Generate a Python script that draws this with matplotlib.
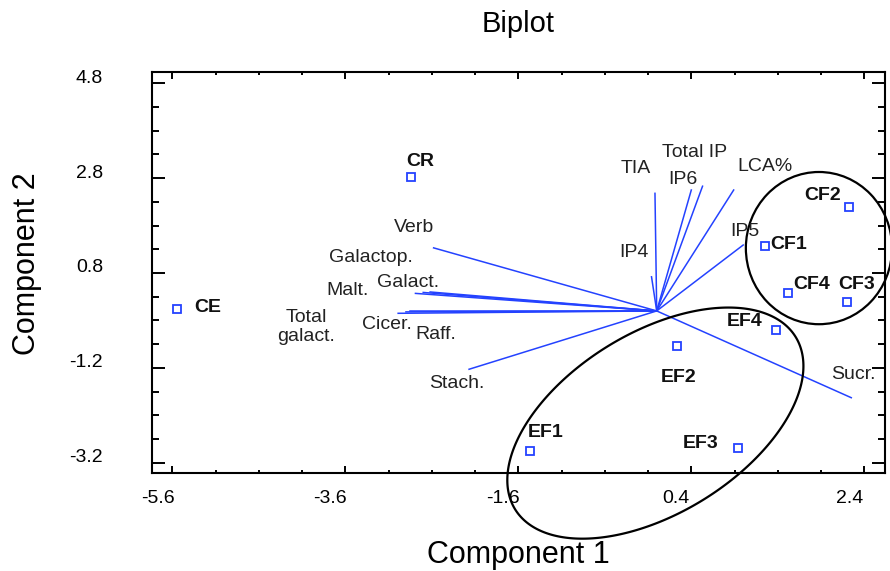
import numpy as np
import matplotlib
matplotlib.use("Agg")
import matplotlib.pyplot as plt
from matplotlib.patches import Ellipse
from matplotlib.transforms import ScaledTranslation

plt.rcParams["font.family"] = ["Liberation Sans", "DejaVu Sans"]

BLUE = "#2442ff"

# observation scores (component 1, component 2)
obs_names = ["CE", "CR", "CF1", "CF2", "CF3", "CF4", "EF1", "EF2", "EF3", "EF4"]
obs_x = [-5.55, -2.84, 1.25, 2.22, 2.20, 1.52, -1.47, 0.23, 0.94, 1.38]
obs_y = [0.05, 2.82, 1.37, 2.20, 0.19, 0.38, -2.96, -0.74, -2.90, -0.41]
obs_lab_x = [-5.19, -2.73, 1.53, 1.92, 2.31, 1.79, -1.29, 0.25, 0.51, 1.02]
obs_lab_y = [0.08, 3.16, 1.40, 2.44, 0.56, 0.56, -2.57, -1.40, -2.80, -0.23]

# variable loadings (scaled)
var_names = ["TIA", "IP4", "IP6", "Total IP", "LCA%", "IP5", "Sucr.",
             "Verb", "Galactop.", "Malt.", "Galact.", "Total\ngalact.",
             "Cicer.", "Raff.", "Stach."]
var_x = [-0.02, -0.06, 0.40, 0.53, 0.89, 1.00, 2.25,
         -2.58, -2.62, -2.70, -2.79, -2.99, -2.90, -2.85, -2.17]
var_y = [2.48, 0.72, 2.55, 2.63, 2.55, 1.39, -1.83,
         1.33, 0.40, 0.39, 0.37, -0.05, -0.02, 0.00, -1.23]
var_lab_x = [-0.24, -0.26, 0.30, 0.44, 1.25, 1.02, 2.27,
             -2.81, -3.31, -3.57, -2.87, -4.05, -3.12, -2.56, -2.31]
var_lab_y = [3.01, 1.23, 2.77, 3.34, 3.04, 1.67, -1.33,
             1.77, 1.12, 0.44, 0.61, -0.34, -0.28, -0.50, -1.52]

# group outlines
cf_center = (1.876, 1.325)
cf_width, cf_height = 1.69, 3.21
ef_trace_x = [-1.72, -1.58, -1.27, -0.77, -0.31, 0.19, 0.81,
              1.28, 1.58, 1.69, 1.62, 1.43, 1.16, 0.88]
ef_trace_y = [-3.42, -2.58, -1.82, -0.98, -0.47, -0.13, 0.08,
              -0.05, -0.47, -1.19, -1.82, -2.45, -3.15, -3.51]

xticks = [-5.6, -3.6, -1.6, 0.4, 2.4]
yticks = [-3.2, -1.2, 0.8, 2.8, 4.8]


def conic_fit(x, y):
    x, y = np.asarray(x), np.asarray(y)
    m = np.column_stack([x**2, x * y, y**2, x, y])
    return np.linalg.lstsq(m, np.ones(len(x)), rcond=None)[0]


fig = plt.figure(figsize=(8.9, 5.71), dpi=100)
ax = fig.add_axes([151.7 / 890, 1 - 473.3 / 571, 733.3 / 890, 401.6 / 571])

for x, y in zip(var_x, var_y):
    ax.plot([0, x], [0, y], color=BLUE, lw=1.1)
for name, x, y in zip(var_names, var_lab_x, var_lab_y):
    ax.text(x, y, name, fontsize=14, ha="center", va="center",
            color="#222222", linespacing=1.1)

ax.plot(obs_x, obs_y, "s", ms=5.5, mfc="white", mec=BLUE, mew=1.3, zorder=4)
for name, x, y in zip(obs_names, obs_lab_x, obs_lab_y):
    ax.text(x, y, name, fontsize=14, fontweight="bold", ha="center",
            va="center", color="#111111")

ax.add_patch(Ellipse(cf_center, cf_width, cf_height, fill=False,
                     ec="black", lw=1.6, clip_on=False))

c = conic_fit(ef_trace_x, ef_trace_y)
gx, gy = np.meshgrid(np.linspace(-3, 4, 800), np.linspace(-7, 2, 800))
F = c[0] * gx**2 + c[1] * gx * gy + c[2] * gy**2 + c[3] * gx + c[4] * gy - 1
cs = ax.contour(gx, gy, F, levels=[0], colors="black", linewidths=1.6)
cs.set_clip_on(False)

ax.set_xlim(-5.84, 2.64)
ax.set_ylim(-3.424, 5.045)
ax.set_xticks(xticks, labels=[f"{v:.1f}" for v in xticks])
ax.set_yticks(yticks, labels=[f"{v:.1f}" for v in yticks])
ax.set_xticks(np.arange(-5.6, 2.65, 0.5), minor=True)
ax.set_yticks(np.arange(-3.2, 5.05, 0.5), minor=True)
ax.tick_params(which="both", direction="in", top=True, right=True,
               width=1.4, labelsize=14)
ax.tick_params(axis="x", which="major", length=5, pad=12)
ax.tick_params(axis="x", which="minor", length=2.5)
ax.tick_params(axis="y", which="major", length=9.5, pad=35)
ax.tick_params(axis="y", which="minor", length=5)
for s in ax.spines.values():
    s.set_linewidth(1.5)

for lab in ax.get_xticklabels():
    lab.set_transform(lab.get_transform() + ScaledTranslation(-0.15, 0, fig.dpi_scale_trans))
for lab in ax.get_yticklabels():
    lab.set_transform(lab.get_transform() + ScaledTranslation(0, 0.07, fig.dpi_scale_trans))

fig.text(518 / 890, 1 - 32 / 571, "Biplot", fontsize=21, ha="center", va="baseline")
fig.text(518 / 890, 1 - 555 / 571, "Component 1", fontsize=22, ha="center", va="center")
fig.text(27 / 890, 1 - 264 / 571, "Component 2", fontsize=22, ha="center",
         va="center", rotation=90)

fig.savefig("out.png", dpi=100)
